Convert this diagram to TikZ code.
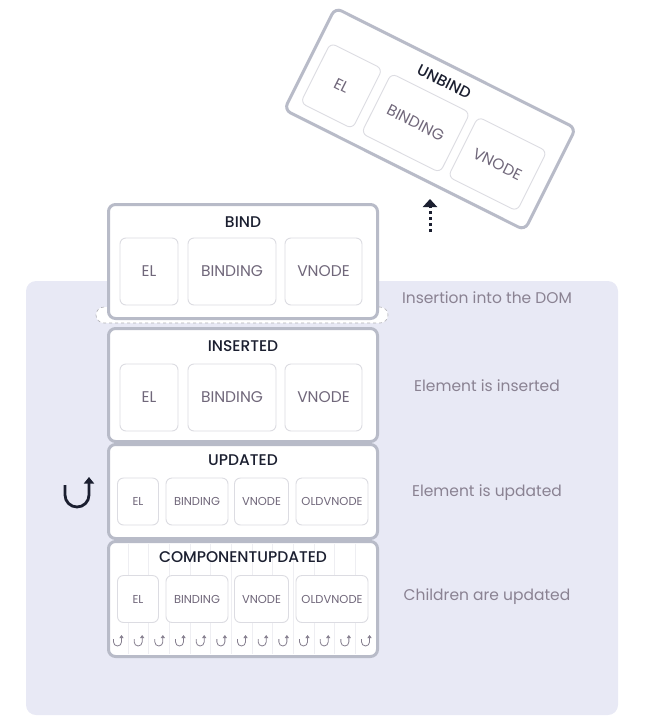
\documentclass[tikz,border=0pt]{standalone}
\usepackage{fontspec}
\setmainfont{Poppins}
\newfontfamily\titlefont{Poppins Medium}
\usepackage{tikz}
\usetikzlibrary{arrows.meta}
\definecolor{bgpanel}{HTML}{E8E9F5}
\definecolor{stageline}{HTML}{B8BBC8}
\definecolor{cellline}{HTML}{DCDCE2}
\definecolor{faintline}{HTML}{EEEEF2}
\definecolor{titleink}{HTML}{1B1F30}
\definecolor{cellink}{HTML}{70677A}
\definecolor{noteink}{HTML}{8A8292}

\begin{document}
\begin{tikzpicture}[x=1pt,y=-1pt,
stagebox/.style={draw=stageline, line width=3pt, rounded corners=7pt, fill=white, minimum width=269pt},
cellbox/.style={draw=cellline, line width=0.9pt, rounded corners=6pt, fill=white, text=cellink, inner sep=0pt},
bigcell/.style={cellbox, minimum height=67pt, font=\fontsize{15.5}{15.5}\selectfont},
smallcell/.style={cellbox, minimum height=47pt, font=\fontsize{11.5}{11.5}\selectfont},
stagetitle/.style={text=titleink, font=\titlefont\fontsize{15.5}{15.5}\selectfont},
sidenote/.style={text=noteink, font=\fontsize{15.5}{15.5}\selectfont},
loopmark/.style={draw=titleink, line width=2.8pt, -{Triangle[width=10pt,length=6.5pt]}},
miniloop/.style={draw=cellink!85, line width=0.8pt, -{Triangle[width=4pt,length=3pt]}},
domslot/.style={draw=cellline!80!black, dashed, line width=0.6pt, rounded corners=8pt, fill=white, minimum width=292pt, minimum height=16pt}
]
\useasboundingbox (0,0) rectangle (645,721);
\fill[bgpanel, rounded corners=10pt] (26,281) rectangle (618,715);

\node[domslot] (dom) at (242,315) {};
\node[stagebox, minimum height=114pt] (bind) at (243,261.5) {};
\node[stagebox, minimum height=113pt] (inserted) at (243,385) {};
\node[stagebox, minimum height=94pt] (updated) at (243,491.5) {};
\node[stagebox, minimum height=115pt] (compupdated) at (243,599) {};

\foreach \i in {0,...,11}
\draw[faintline, line width=0.5pt] (128+\i*20.67,544) -- ++(0,110);

\node[stagetitle] (bindtitle) at (243,222) {BIND};
\node[stagetitle] (insertedtitle) at (243,346) {INSERTED};
\node[stagetitle] (updatedtitle) at (243,460) {UPDATED};
\node[stagetitle] (compupdatedtitle) at (243,557) {COMPONENTUPDATED};

\foreach \name/\x/\w/\txt in {el/149/58/EL,binding/232/88/BINDING,vnode/323.5/77/VNODE}{
\node[bigcell, minimum width=\w pt] (bind-\name) at (\x,271.5) {\txt};
\node[bigcell, minimum width=\w pt] (inserted-\name) at (\x,397.5) {\txt};
}
\foreach \name/\x/\w/\txt in {el/138/41/EL,binding/197/62/BINDING,vnode/261.5/54/VNODE,oldvnode/332/72/OLDVNODE}{
\node[smallcell, minimum width=\w pt] (updated-\name) at (\x,501.5) {\txt};
\node[smallcell, minimum width=\w pt] (compupdated-\name) at (\x,599) {\txt};
}

\foreach \i in {0,...,12}{
\coordinate (tick\i) at (113.5+\i*20.67,639);
\draw[miniloop] (tick\i) -- ++(0,3) arc[start angle=180, end angle=360, radius=4pt] -- ++(0,-7);
}

\coordinate (looptop) at (65,485);
\draw[loopmark] (looptop) -- ++(0,10) arc[start angle=180, end angle=360, radius=12pt] -- ++(0,-18);

\node[sidenote] (domnote) at (487,298) {Insertion into the DOM};
\node[sidenote] (insertednote) at (487,386) {Element is inserted};
\node[sidenote] (updatednote) at (487,493) {Element is updated};
\node[sidenote] (compupdatednote) at (487,597) {Children are updated};

\begin{scope}[shift={(430,119)}, rotate=-26.6, transform shape]
\node[stagebox, minimum height=114pt] (unbind) at (0,0) {};
\node[stagetitle] (unbindtitle) at (-4,-39.5) {UNBIND};
\foreach \name/\x/\w/\txt in {el/-94/58/EL,binding/-11/88/BINDING,vnode/80.5/77/VNODE}
\node[bigcell, minimum width=\w pt] (unbind-\name) at (\x,10) {\txt};
\end{scope}

\coordinate (unbindfrom) at (430,232);
\coordinate (unbindto) at (430,199);
\draw[titleink, line width=3pt, dash pattern=on 3.5pt off 2.5pt, -{Triangle[width=14pt,length=8pt]}] (unbindfrom) -- (unbindto);
\end{tikzpicture}
\end{document}
